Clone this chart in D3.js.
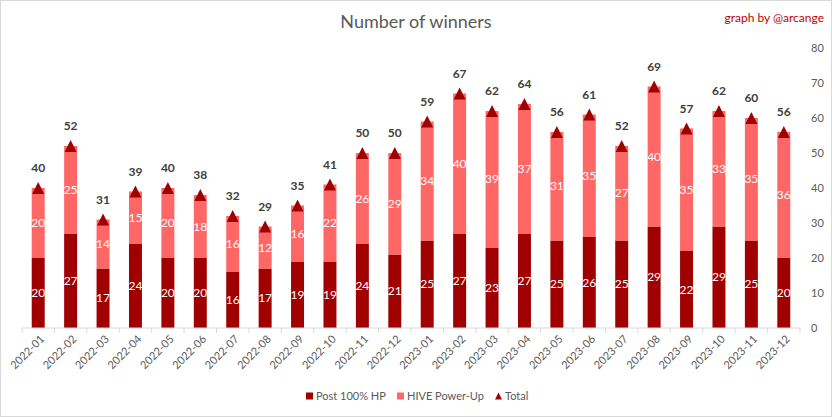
<!DOCTYPE html>
<html>
<head>
<meta charset="utf-8">
<script src="https://cdn.jsdelivr.net/npm/d3@7"></script>
<style>
  body { margin: 0; background: #fff; }
  svg { display: block; font-family: Lato, "Open Sans", sans-serif; }
</style>
</head>
<body>
<svg width="832" height="417"></svg>
<script>
const months = ["2022-01","2022-02","2022-03","2022-04","2022-05","2022-06","2022-07","2022-08","2022-09","2022-10","2022-11","2022-12",
  "2023-01","2023-02","2023-03","2023-04","2023-05","2023-06","2023-07","2023-08","2023-09","2023-10","2023-11","2023-12"];
const post100 = [20,27,17,24,20,20,16,17,19,19,24,21,25,27,23,27,25,26,25,29,22,29,25,20];
const powerUp = [20,25,14,15,20,18,16,12,16,22,26,29,34,40,39,37,31,35,27,40,35,33,35,36];
const totals = [40,52,31,39,40,38,32,29,35,41,50,50,59,67,62,64,56,61,52,69,57,62,60,56];
const yTicks = [0,10,20,30,40,50,60,70,80];

const darkRed = "#a00000";
const lightRed = "#ff6666";

const svg = d3.select("svg");
const W = 832, H = 417;

// outer frame
svg.append("rect").attr("x", 0.5).attr("y", 0.5).attr("width", W - 1).attr("height", H - 1)
  .attr("fill", "#fff").attr("stroke", "#d9d9d9");

const x = d3.scaleBand().domain(months).range([22, 800]).paddingInner(0.6).paddingOuter(0.3);
const y = d3.scaleLinear().domain([0, 80]).range([328, 48]);

// title
svg.append("text").attr("x", 416).attr("y", 28).attr("text-anchor", "middle")
  .attr("font-size", 18).attr("fill", "#595959").text("Number of winners");
svg.append("text").attr("x", 824).attr("y", 22).attr("text-anchor", "end")
  .attr("font-size", 12).attr("fill", "#c00000").text("graph by @arcange");

// stacked bars
const rows = months.map((m, i) => ({ m, a: post100[i], b: powerUp[i], t: totals[i] }));
const g = svg.append("g");

g.selectAll(".post").data(rows).join("rect").attr("class", "post")
  .attr("x", d => x(d.m)).attr("width", x.bandwidth())
  .attr("y", d => y(d.a)).attr("height", d => y(0) - y(d.a))
  .attr("fill", darkRed);

g.selectAll(".pu").data(rows).join("rect").attr("class", "pu")
  .attr("x", d => x(d.m)).attr("width", x.bandwidth())
  .attr("y", d => y(d.a + d.b)).attr("height", d => y(d.a) - y(d.a + d.b))
  .attr("fill", lightRed);

// segment labels
g.selectAll(".lpost").data(rows).join("text")
  .attr("x", d => x(d.m) + x.bandwidth() / 2).attr("y", d => y(d.a / 2))
  .attr("dy", "0.35em").attr("text-anchor", "middle").attr("font-size", 12).attr("fill", "#fff")
  .text(d => d.a);
g.selectAll(".lpu").data(rows).join("text")
  .attr("x", d => x(d.m) + x.bandwidth() / 2).attr("y", d => y(d.a + d.b / 2))
  .attr("dy", "0.35em").attr("text-anchor", "middle").attr("font-size", 12).attr("fill", "#fff")
  .text(d => d.b);

// total markers: triangle 12 wide, 12 tall, centred on the total
const tri = "M0,-6L6,6L-6,6Z";
g.selectAll(".tot").data(rows).join("path")
  .attr("transform", d => `translate(${x(d.m) + x.bandwidth() / 2},${y(d.t)})`)
  .attr("d", tri).attr("fill", darkRed);
g.selectAll(".ltot").data(rows).join("text")
  .attr("x", d => x(d.m) + x.bandwidth() / 2).attr("y", d => y(d.t) - 16)
  .attr("text-anchor", "middle").attr("font-size", 12).attr("font-weight", "bold").attr("fill", "#404040")
  .text(d => d.t);

// x axis
const xAxis = svg.append("g").attr("transform", `translate(0,${y(0)})`);
xAxis.append("line").attr("x1", 22).attr("x2", 800).attr("stroke", "#d9d9d9");
xAxis.selectAll(".tick").data(d3.range(months.length + 1)).join("line")
  .attr("x1", i => 22 + i * x.step()).attr("x2", i => 22 + i * x.step())
  .attr("y1", 0).attr("y2", 5).attr("stroke", "#d9d9d9");
xAxis.selectAll(".xl").data(months).join("text")
  .attr("transform", d => `translate(${x(d) + x.bandwidth() / 2 + 4},${9}) rotate(-45)`)
  .attr("text-anchor", "end").attr("dy", "0.35em").attr("font-size", 11).attr("fill", "#595959")
  .text(d => d);

// y axis (right, no line)
const yAxis = svg.append("g").attr("transform", "translate(811,0)")
  .call(d3.axisRight(y).tickValues(yTicks).tickSize(0).tickPadding(0));
yAxis.select(".domain").remove();
yAxis.selectAll("text").attr("font-size", 11).attr("fill", "#595959").attr("font-family", "Lato, sans-serif");

// legend
const legend = svg.append("g").attr("transform", "translate(0,396)").attr("font-size", 11).attr("fill", "#595959");
const items = [
  { name: "Post 100% HP", color: darkRed, x: 306, shape: "sq" },
  { name: "HIVE Power-Up", color: lightRed, x: 397, shape: "sq" },
  { name: "Total", color: darkRed, x: 495, shape: "tri" }
];
items.forEach(it => {
  if (it.shape === "sq") {
    legend.append("rect").attr("x", it.x).attr("y", -3.5).attr("width", 7).attr("height", 7).attr("fill", it.color);
  } else {
    legend.append("path").attr("transform", `translate(${it.x + 3.5},0)`)
      .attr("d", "M0,-3.5L3.5,3.5L-3.5,3.5Z").attr("fill", it.color);
  }
  legend.append("text").attr("x", it.x + 10).attr("dy", "0.35em").text(it.name);
});
</script>
</body>
</html>
